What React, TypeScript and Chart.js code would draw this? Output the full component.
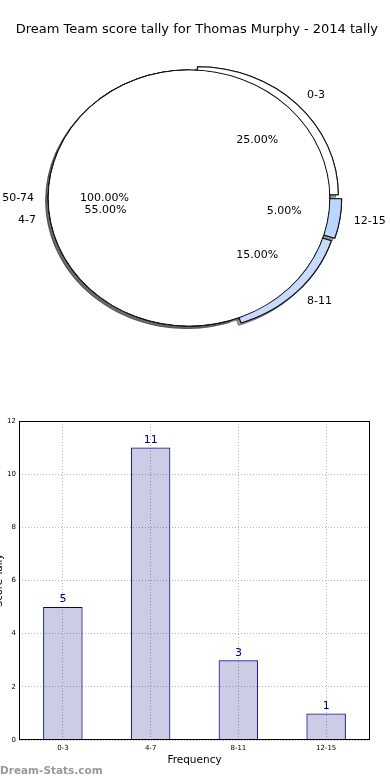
import React, { useEffect, useRef } from 'react';
import { Chart, registerables, ArcElement } from 'chart.js';

Chart.register(...registerables);

// ---------- data ----------
const TITLE = 'Dream Team score tally for Thomas Murphy - 2014 tally';
const CATEGORIES = ['0-3', '4-7', '8-11', '12-15'];
const TALLY = [5, 11, 3, 1];
const EXPLODE = [1, 0, 1, 1];
const OVERALL_LABELS = ['50-74'];
const OVERALL_VALUES = [1];
const Y_MIN = 0;
const Y_MAX = 12;
const Y_STEP = 2;
const X_TITLE = 'Frequency';
const Y_TITLE = 'Score Tally';
const WATERMARK = 'Dream-Stats.com';

// ---------- style ----------
const FONT = "'DejaVu Sans', sans-serif";
const PIE_COLORS = ['#ffffff', '#ffffff', '#c6dbff', '#b9d7ff'];
const SX = 1.1; // horizontal stretch of the pie (ellipse)
const KX = 12; // explode shift, horizontal
const KY = 4.5; // explode shift, vertical
const LABEL_DIST = 1.1;
const PCT_DIST = 0.6;

type Item = { arc: any; explode: number; name: string; pct: number; whole: boolean };

function pieItems(chart: any): Item[] {
  const items: Item[] = [];
  [1, 0].forEach((di) => {
    const ds = chart.data.datasets[di];
    const meta = chart.getDatasetMeta(di);
    const total = ds.data.reduce((a: number, b: number) => a + b, 0);
    meta.data.forEach((arc: any, i: number) => {
      items.push({
        arc,
        explode: (ds.explode || [])[i] || 0,
        name: ds.names[i],
        pct: (ds.data[i] / total) * 100,
        whole: !!ds.whole,
      });
    });
  });
  return items;
}

function shiftOf(arc: any, e: number) {
  const mid = (arc.startAngle + arc.endAngle) / 2;
  return { mid, dx: e * KX * Math.cos(mid), dy: -e * KY * Math.sin(mid) };
}

const piePlugin = {
  id: 'ellipsePie',
  beforeDatasetsDraw(chart: any) {
    const ctx = chart.ctx;
    const items = pieItems(chart);
    const R = Math.max(...items.map((it) => it.arc.outerRadius));
    items.forEach((it) => {
      it.arc.outerRadius = R;
      it.arc.innerRadius = 0;
    });
    const paint = (el: any, it: Item, shadow: boolean) => {
      const { dx, dy } = shiftOf(it.arc, it.explode);
      ctx.save();
      if (shadow) {
        ctx.shadowColor = 'rgba(60,60,60,0.5)';
        ctx.shadowOffsetX = -2.5;
        ctx.shadowOffsetY = 2.5;
        ctx.shadowBlur = 0;
      }
      ctx.translate(el.x + dx, el.y + dy);
      ctx.scale(SX, -1);
      ctx.translate(-el.x, -el.y);
      el.draw(ctx);
      ctx.restore();
    };
    items.forEach((it) => paint(it.arc, it, true));
    items.forEach((it) => {
      paint(it.arc, it, false);
      if (it.whole) {
        const a = it.arc;
        const cover: any = new (ArcElement as any)({
          x: a.x,
          y: a.y,
          startAngle: a.startAngle,
          endAngle: a.endAngle,
          circumference: a.circumference,
          innerRadius: 0,
          outerRadius: a.outerRadius - 0.8,
        });
        cover.options = { ...a.options, borderWidth: 0 };
        paint(cover, it, false);
      }
    });
    return false;
  },
  afterDraw(chart: any) {
    const ctx = chart.ctx;
    const items = pieItems(chart);
    ctx.save();
    ctx.font = `11px ${FONT}`;
    ctx.fillStyle = '#000';
    ctx.textBaseline = 'middle';
    items.forEach((it) => {
      const a = it.arc;
      const R = a.outerRadius;
      const { mid, dx, dy } = shiftOf(a, it.explode);
      const c = Math.cos(mid);
      const s = -Math.sin(mid);
      ctx.textAlign = c > 0 ? 'left' : 'right';
      ctx.fillText(it.name, a.x + dx + LABEL_DIST * R * SX * c, a.y + dy + LABEL_DIST * R * s);
      ctx.textAlign = 'center';
      ctx.fillText(it.pct.toFixed(2) + '%', a.x + dx + PCT_DIST * R * SX * c, a.y + dy + PCT_DIST * R * s);
    });
    ctx.restore();
  },
};

const barLabelPlugin = {
  id: 'barLabels',
  afterDatasetsDraw(chart: any) {
    const ctx = chart.ctx;
    const meta = chart.getDatasetMeta(0);
    const ds = chart.data.datasets[0];
    ctx.save();
    ctx.font = `11px ${FONT}`;
    ctx.fillStyle = '#000080';
    ctx.textAlign = 'center';
    ctx.textBaseline = 'bottom';
    meta.data.forEach((bar: any, i: number) => {
      ctx.fillText(String(ds.data[i]), bar.x, bar.y - 2);
    });
    ctx.restore();
  },
  afterDraw(chart: any) {
    const { ctx, chartArea } = chart;
    ctx.save();
    ctx.strokeStyle = '#000';
    ctx.lineWidth = 1;
    const l = Math.round(chartArea.left) + 0.5;
    const t = Math.round(chartArea.top) + 0.5;
    const r = Math.round(chartArea.right) - 0.5;
    const b = Math.round(chartArea.bottom) - 0.5;
    ctx.strokeRect(l, t, r - l, b - t);
    ctx.restore();
  },
};

export default function App() {
  const pieRef = useRef<HTMLCanvasElement | null>(null);
  const barRef = useRef<HTMLCanvasElement | null>(null);

  useEffect(() => {
    Chart.defaults.font.family = FONT;
    Chart.defaults.color = '#000';

    const pie = new Chart(pieRef.current as HTMLCanvasElement, {
      type: 'pie',
      data: {
        labels: CATEGORIES,
        datasets: [
          {
            data: OVERALL_VALUES,
            names: OVERALL_LABELS,
            whole: true,
            backgroundColor: ['#ffffff'],
          } as any,
          {
            data: TALLY,
            names: CATEGORIES,
            explode: EXPLODE,
            backgroundColor: PIE_COLORS,
          } as any,
        ],
      },
      options: {
        animation: false,
        responsive: false,
        devicePixelRatio: 1,
        rotation: 90,
        radius: 128,
        layout: { padding: { left: 0, right: 12, top: 0, bottom: 41.6 } },
        elements: { arc: { borderWidth: 1, borderColor: '#111' } },
        plugins: {
          legend: { display: false },
          tooltip: { enabled: false },
          title: {
            display: true,
            text: TITLE,
            align: 'end',
            color: '#000',
            font: { size: 13, weight: 'normal', family: FONT },
            padding: { top: 22, bottom: 10 },
          },
        },
      } as any,
      plugins: [piePlugin],
    });

    const bar = new Chart(barRef.current as HTMLCanvasElement, {
      type: 'bar',
      data: {
        labels: CATEGORIES,
        datasets: [
          {
            data: TALLY,
            backgroundColor: 'rgba(0,0,128,0.2)',
            borderColor: '#000080',
            borderWidth: 1,
            barPercentage: 0.45,
            categoryPercentage: 1,
          },
        ],
      },
      options: {
        animation: false,
        responsive: false,
        devicePixelRatio: 1,
        layout: { padding: { left: 0, right: 20, top: 31, bottom: 0 } },
        plugins: { legend: { display: false }, tooltip: { enabled: false } },
        scales: {
          x: {
            grid: { offset: false, color: '#b4b4b4', lineWidth: 1, drawTicks: false },
            border: { display: false, dash: [1, 2] },
            ticks: { font: { size: 7, family: FONT }, color: '#000', padding: 4 },
            title: {
              display: true,
              text: X_TITLE,
              color: '#000',
              font: { size: 10.5, family: FONT },
              padding: { top: 0, bottom: 13.7 },
            },
            afterFit: (s: any) => {
              s.height = 40;
            },
          },
          y: {
            min: Y_MIN,
            max: Y_MAX,
            grid: { color: '#b4b4b4', lineWidth: 1, drawTicks: false },
            border: { display: false, dash: [1, 2] },
            ticks: { stepSize: Y_STEP, font: { size: 7, family: FONT }, color: '#000', padding: 3 },
            title: {
              display: true,
              text: Y_TITLE,
              color: '#000',
              font: { size: 10, family: FONT },
              padding: { top: 0, bottom: 0 },
            },
            afterFit: (s: any) => {
              s.width = 26;
            },
          },
        },
      } as any,
      plugins: [barLabelPlugin],
    });

    return () => {
      pie.destroy();
      bar.destroy();
    };
  }, []);

  return (
    <div
      style={{
        position: 'absolute',
        left: 0,
        top: 0,
        width: 390,
        height: 780,
        overflow: 'hidden',
        background: '#fff',
      }}
    >
      <canvas
        ref={pieRef}
        width={390}
        height={390}
        style={{ position: 'absolute', left: 0, top: 0, width: 390, height: 390 }}
      />
      <canvas
        ref={barRef}
        width={397}
        height={390}
        style={{ position: 'absolute', left: -7, top: 390, width: 397, height: 390 }}
      />
      <div
        style={{
          position: 'absolute',
          left: 0,
          top: 764,
          fontFamily: FONT,
          fontWeight: 'bold',
          fontSize: 10.5,
          lineHeight: '12px',
          color: '#999',
          whiteSpace: 'nowrap',
        }}
      >
        {WATERMARK}
      </div>
    </div>
  );
}
